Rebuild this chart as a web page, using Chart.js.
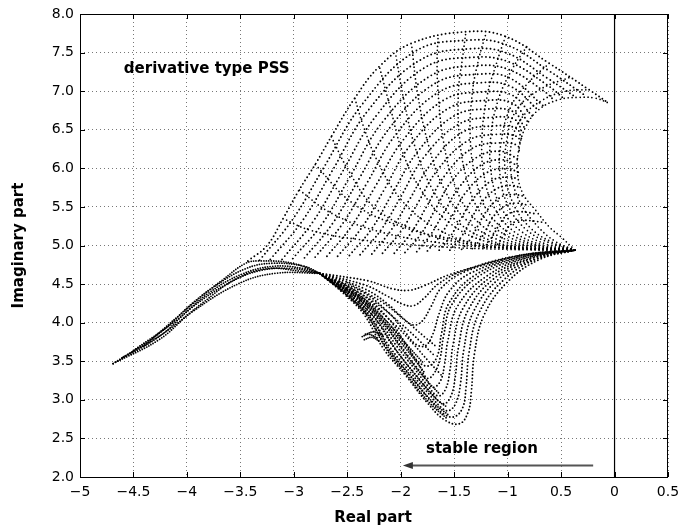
<!DOCTYPE html>
<html>
<head>
<meta charset="utf-8">
<script src="https://cdn.jsdelivr.net/npm/chart.js@4.4.1/dist/chart.umd.min.js"></script>
<style>
  html, body { margin: 0; padding: 0; background: #fff; }
  #chart { display: block; }
</style>
</head>
<body>
<canvas id="chart" width="678" height="531"></canvas>
<script>
const xTickLabels = ["\u22125", "\u22124.5", "\u22124", "\u22123.5", "\u22123", "\u22122.5", "\u22122", "\u22121.5", "\u22121", "0.5", "0", "0.5"];
const yTickLabels = ["2.0", "2.5", "3.0", "3.5", "4.0", "4.5", "5.0", "5.5", "6.0", "6.5", "7.0", "7.5", "8.0"];

// nested gain contours of the upper fan (outermost first)
const upperArcs = [
  [[-3.43,4.80],[-3.25,5.00],[-3.10,5.35],[-2.95,5.72],[-2.80,6.05],[-2.65,6.41],[-2.43,6.91],[-2.20,7.32],[-1.90,7.62],[-1.39,7.77],[-1.02,7.71],[-0.61,7.36],[-0.24,7.02],[-0.06,6.85]],
  [[-3.32,4.81],[-3.01,5.34],[-2.72,6.01],[-2.36,6.83],[-1.86,7.52],[-1.37,7.66],[-1.01,7.60],[-0.62,7.27],[-0.26,6.93]],
  [[-3.22,4.82],[-2.92,5.32],[-2.64,5.97],[-2.30,6.76],[-1.81,7.41],[-1.34,7.55],[-1.00,7.49],[-0.63,7.17],[-0.36,6.92]],
  [[-3.11,4.82],[-2.82,5.31],[-2.56,5.92],[-2.23,6.68],[-1.77,7.31],[-1.32,7.44],[-0.99,7.38],[-0.63,7.08],[-0.47,6.90]],
  [[-3.01,4.83],[-2.73,5.29],[-2.48,5.88],[-2.17,6.60],[-1.72,7.20],[-1.30,7.33],[-0.99,7.28],[-0.64,6.98],[-0.56,6.87]],
  [[-2.90,4.84],[-2.64,5.28],[-2.40,5.84],[-2.10,6.53],[-1.68,7.10],[-1.27,7.22],[-0.98,7.17],[-0.66,6.80]],
  [[-2.80,4.85],[-2.55,5.27],[-2.32,5.80],[-2.04,6.45],[-1.64,6.99],[-1.25,7.11],[-0.97,7.06],[-0.71,6.75]],
  [[-2.69,4.86],[-2.46,5.25],[-2.24,5.76],[-1.97,6.38],[-1.59,6.89],[-1.23,6.99],[-0.96,6.95],[-0.77,6.68]],
  [[-2.59,4.86],[-2.36,5.24],[-2.16,5.71],[-1.91,6.30],[-1.55,6.78],[-1.20,6.88],[-0.95,6.84],[-0.81,6.60]],
  [[-2.48,4.87],[-2.27,5.22],[-2.08,5.67],[-1.84,6.22],[-1.50,6.68],[-1.18,6.77],[-0.94,6.73],[-0.84,6.52]],
  [[-2.38,4.88],[-2.18,5.21],[-2.00,5.63],[-1.78,6.15],[-1.46,6.57],[-1.15,6.66],[-0.93,6.63],[-0.86,6.45]],
  [[-2.27,4.89],[-2.09,5.20],[-1.92,5.59],[-1.71,6.07],[-1.42,6.47],[-1.13,6.55],[-0.92,6.52],[-0.87,6.38]],
  [[-2.17,4.90],[-2.00,5.18],[-1.84,5.55],[-1.65,5.99],[-1.37,6.36],[-1.11,6.44],[-0.91,6.41],[-0.88,6.30]],
  [[-2.06,4.90],[-1.90,5.17],[-1.76,5.50],[-1.58,5.92],[-1.33,6.26],[-1.08,6.33],[-0.91,6.30],[-0.89,6.22]],
  [[-1.96,4.91],[-1.81,5.15],[-1.68,5.46],[-1.52,5.84],[-1.28,6.15],[-1.06,6.22],[-0.90,6.12]],
  [[-1.85,4.92],[-1.72,5.14],[-1.60,5.42],[-1.45,5.76],[-1.24,6.05],[-1.04,6.11],[-0.90,6.03]],
  [[-1.75,4.93],[-1.63,5.13],[-1.52,5.38],[-1.39,5.69],[-1.20,5.94],[-1.01,6.00],[-0.90,5.95]],
  [[-1.64,4.94],[-1.54,5.11],[-1.44,5.34],[-1.32,5.61],[-1.15,5.84],[-0.99,5.89],[-0.90,5.86]],
  [[-1.54,4.94],[-1.44,5.10],[-1.36,5.29],[-1.26,5.53],[-1.11,5.73],[-0.97,5.78],[-0.88,5.75]],
  [[-1.43,4.95],[-1.35,5.08],[-1.28,5.25],[-1.19,5.46],[-1.06,5.63],[-0.94,5.66],[-0.85,5.64]],
  [[-1.33,4.96],[-1.26,5.07],[-1.20,5.21],[-1.13,5.38],[-1.02,5.52],[-0.92,5.55],[-0.80,5.52]],
  [[-1.22,4.97],[-1.17,5.06],[-1.12,5.17],[-1.06,5.31],[-0.98,5.42],[-0.89,5.44],[-0.73,5.41]],
  [[-1.12,4.98],[-1.08,5.04],[-1.04,5.13],[-1.00,5.23],[-0.93,5.31],[-0.87,5.33],[-0.66,5.30]]
];

// branches leaving the open-loop point and running out to the upper envelope
const upperRays = [
  [[-0.37,4.94],[-0.50,5.11],[-0.61,5.24],[-0.74,5.46],[-0.86,5.68],[-0.91,5.98],[-0.89,6.28],[-0.83,6.54],[-0.71,6.76],[-0.52,6.89],[-0.33,6.92],[-0.18,6.91],[-0.06,6.85]],
  [[-0.37,4.94],[-0.55,5.05],[-0.72,5.25],[-0.88,5.55],[-0.97,5.95],[-0.96,6.35],[-0.87,6.65],[-0.68,6.88],[-0.45,7.00],[-0.24,7.02]],
  [[-0.37,4.94],[-0.58,5.04],[-0.78,5.22],[-0.94,5.52],[-1.02,5.92],[-1.01,6.35],[-0.92,6.75],[-0.70,7.02],[-0.40,7.19]],
  [[-0.37,4.94],[-0.60,5.03],[-0.82,5.20],[-0.99,5.50],[-1.07,5.90],[-1.06,6.35],[-0.97,6.80],[-0.80,7.12],[-0.61,7.36]],
  [[-0.37,4.94],[-0.62,5.01],[-0.87,5.18],[-1.06,5.49],[-1.15,5.90],[-1.16,6.38],[-1.09,6.88],[-0.96,7.28],[-0.82,7.58]],
  [[-0.37,4.94],[-0.65,5.00],[-0.92,5.16],[-1.12,5.48],[-1.22,5.90],[-1.24,6.40],[-1.19,6.95],[-1.10,7.38],[-1.02,7.71]],
  [[-0.37,4.94],[-0.67,4.99],[-0.96,5.14],[-1.19,5.45],[-1.30,5.88],[-1.35,6.40],[-1.33,6.98],[-1.27,7.42],[-1.20,7.76]],
  [[-0.37,4.94],[-0.70,4.99],[-1.00,5.12],[-1.25,5.42],[-1.38,5.85],[-1.45,6.40],[-1.46,7.00],[-1.42,7.45],[-1.39,7.77]],
  [[-0.37,4.94],[-0.72,4.98],[-1.05,5.10],[-1.33,5.38],[-1.50,5.80],[-1.60,6.35],[-1.65,6.98],[-1.66,7.40],[-1.65,7.72]],
  [[-0.37,4.94],[-0.75,4.98],[-1.10,5.08],[-1.40,5.35],[-1.60,5.75],[-1.74,6.30],[-1.84,6.95],[-1.90,7.62]],
  [[-0.37,4.94],[-0.78,4.97],[-1.15,5.06],[-1.48,5.32],[-1.70,5.72],[-1.86,6.25],[-1.97,6.88],[-2.05,7.50]],
  [[-0.37,4.94],[-0.80,4.97],[-1.20,5.05],[-1.55,5.30],[-1.80,5.70],[-1.98,6.20],[-2.10,6.80],[-2.20,7.32]],
  [[-0.37,4.94],[-0.85,4.96],[-1.30,5.02],[-1.70,5.25],[-2.00,5.60],[-2.22,6.10],[-2.35,6.55],[-2.43,6.91]],
  [[-0.37,4.94],[-0.90,4.96],[-1.45,5.04],[-1.90,5.22],[-2.25,5.50],[-2.48,5.95],[-2.65,6.41]],
  [[-0.37,4.94],[-0.90,4.97],[-1.50,5.08],[-2.00,5.25],[-2.45,5.55],[-2.80,6.05]],
  [[-0.37,4.94],[-0.95,4.96],[-1.60,5.03],[-2.20,5.18],[-2.65,5.42],[-2.95,5.72]],
  [[-0.37,4.94],[-1.00,4.95],[-1.70,4.99],[-2.40,5.08],[-2.85,5.20],[-3.10,5.35]]
];

// lower fan: loci from the crossing point down and back to the open-loop point
const lowerArcs = [
  [[-2.76,4.64],[-2.52,4.36],[-2.34,4.10],[-2.16,3.66],[-1.95,3.31],[-1.75,2.96],[-1.59,2.74],[-1.45,2.69],[-1.37,2.84],[-1.34,3.10],[-1.31,3.60],[-1.22,4.10],[-1.00,4.53],[-0.70,4.82],[-0.37,4.94]],
  [[-2.76,4.64],[-2.50,4.36],[-2.31,4.09],[-2.13,3.67],[-1.92,3.32],[-1.73,3.00],[-1.60,2.82],[-1.50,2.78],[-1.42,2.90],[-1.39,3.15],[-1.36,3.62],[-1.27,4.12],[-1.04,4.55],[-0.72,4.83],[-0.37,4.94]],
  [[-2.76,4.64],[-2.48,4.36],[-2.28,4.08],[-2.10,3.68],[-1.90,3.34],[-1.72,3.05],[-1.62,2.90],[-1.55,2.86],[-1.48,2.97],[-1.44,3.22],[-1.41,3.65],[-1.32,4.14],[-1.08,4.57],[-0.74,4.83],[-0.37,4.94]],
  [[-2.76,4.64],[-2.46,4.36],[-2.25,4.07],[-2.07,3.69],[-1.88,3.36],[-1.72,3.10],[-1.60,2.95],[-1.53,3.05],[-1.49,3.30],[-1.46,3.68],[-1.37,4.16],[-1.12,4.58],[-0.76,4.84],[-0.37,4.94]],
  [[-2.76,4.64],[-2.44,4.36],[-2.22,4.06],[-2.04,3.70],[-1.87,3.40],[-1.74,3.17],[-1.65,3.05],[-1.58,3.14],[-1.54,3.38],[-1.51,3.72],[-1.42,4.18],[-1.16,4.59],[-0.78,4.84],[-0.37,4.94]],
  [[-2.76,4.64],[-2.42,4.36],[-2.19,4.06],[-2.01,3.72],[-1.86,3.44],[-1.76,3.26],[-1.70,3.16],[-1.63,3.24],[-1.59,3.46],[-1.56,3.76],[-1.47,4.21],[-1.20,4.60],[-0.80,4.85],[-0.37,4.94]],
  [[-2.76,4.64],[-2.40,4.37],[-2.16,4.06],[-1.98,3.75],[-1.84,3.48],[-1.75,3.28],[-1.68,3.36],[-1.63,3.55],[-1.60,3.82],[-1.52,4.24],[-1.25,4.62],[-0.82,4.85],[-0.37,4.94]],
  [[-2.76,4.64],[-2.38,4.38],[-2.12,4.06],[-1.95,3.72],[-1.84,3.50],[-1.74,3.44],[-1.66,3.56],[-1.62,3.85],[-1.55,4.25],[-1.30,4.62],[-0.84,4.86],[-0.37,4.94]],
  [[-2.76,4.64],[-2.36,4.40],[-2.12,4.14],[-1.96,3.88],[-1.86,3.72],[-1.77,3.70],[-1.70,3.85],[-1.64,4.12],[-1.55,4.40],[-1.35,4.64],[-0.86,4.86],[-0.37,4.94]],
  [[-2.76,4.64],[-2.34,4.44],[-2.12,4.24],[-1.98,4.06],[-1.88,3.97],[-1.80,4.02],[-1.72,4.20],[-1.62,4.45],[-1.40,4.66],[-0.88,4.87],[-0.37,4.94]],
  [[-2.76,4.64],[-2.32,4.48],[-2.12,4.34],[-1.98,4.24],[-1.88,4.22],[-1.78,4.32],[-1.65,4.50],[-1.42,4.67],[-0.90,4.87],[-0.37,4.94]],
  [[-2.76,4.64],[-2.30,4.54],[-2.08,4.44],[-1.92,4.42],[-1.78,4.48],[-1.55,4.62],[-1.20,4.76],[-0.80,4.89],[-0.37,4.94]]
];

// dense strip along the left edge of the lower fan, and its fainter inner lines
const lowerBand = [
  [[-2.75,4.63],[-2.50,4.35],[-2.31,4.08],[-2.13,3.65],[-1.93,3.30],[-1.73,2.96],[-1.57,2.76]],
  [[-2.74,4.62],[-2.48,4.34],[-2.28,4.06],[-2.10,3.64],[-1.90,3.30],[-1.70,2.97],[-1.55,2.80]],
  [[-2.72,4.60],[-2.44,4.32],[-2.23,4.04],[-2.04,3.64],[-1.85,3.30],[-1.66,3.00],[-1.56,2.90]],
  [[-2.70,4.58],[-2.40,4.31],[-2.18,4.02],[-1.98,3.64],[-1.80,3.32],[-1.64,3.08]],
  [[-2.68,4.57],[-2.37,4.30],[-2.15,4.01],[-1.95,3.66],[-1.78,3.36]],
  [[-2.66,4.56],[-2.35,4.30],[-2.12,4.00],[-1.92,3.68],[-1.79,3.48]]
];
const lowerInner = [
  [[-2.62,4.55],[-2.30,4.27],[-2.06,3.98],[-1.88,3.72],[-1.74,3.50],[-1.62,3.32]],
  [[-2.57,4.53],[-2.24,4.26],[-2.00,3.99],[-1.82,3.76],[-1.69,3.58]],
  [[-2.50,4.52],[-2.18,4.27],[-1.95,4.02],[-1.78,3.82],[-1.66,3.68]]
];

// left branch running out to about -4.7 + j3.5
const leftBand = [
  [[-4.69,3.47],[-4.26,3.86],[-3.95,4.25],[-3.67,4.55],[-3.45,4.77],[-3.32,4.80],[-3.01,4.77],[-2.76,4.64]],
  [[-4.69,3.47],[-4.26,3.78],[-3.95,4.14],[-3.51,4.51],[-3.17,4.64],[-2.76,4.64]],
  [[-4.69,3.47],[-4.26,3.82],[-3.95,4.20],[-3.60,4.52],[-3.30,4.68],[-3.00,4.70],[-2.76,4.64]],
  [[-4.50,3.64],[-4.10,4.03],[-3.80,4.38],[-3.50,4.62],[-3.20,4.73],[-2.90,4.70],[-2.76,4.64]],
  [[-4.40,3.70],[-4.05,4.12],[-3.75,4.46],[-3.45,4.70],[-3.20,4.77],[-2.90,4.73],[-2.76,4.64]],
  [[-4.60,3.55],[-4.20,3.88],[-3.85,4.26],[-3.55,4.56],[-3.25,4.70],[-2.95,4.67],[-2.76,4.64]]
];

const hooks = [
  [[-2.36,3.82],[-2.30,3.85],[-2.22,3.80]],
  [[-2.34,3.78],[-2.27,3.81],[-2.19,3.75]],
  [[-2.33,3.85],[-2.25,3.88],[-2.17,3.84]]
];

const zeroLine = [[0, 2], [0, 8]];

function curveDataset(points, dash, width) {
  return {
    data: points.map(p => ({ x: p[0], y: p[1] })),
    showLine: true,
    borderColor: "#000",
    borderWidth: width,
    borderDash: dash,
    borderCapStyle: "round",
    pointRadius: 0,
    tension: 0.4,
    fill: false
  };
}

const datasets = [];
upperArcs.forEach(c => datasets.push(curveDataset(c, [0, 4], 1.9)));
upperRays.forEach(c => datasets.push(curveDataset(c, [0, 4], 1.7)));
lowerArcs.forEach(c => datasets.push(curveDataset(c, [0, 3.5], 1.9)));
lowerBand.forEach(c => datasets.push(curveDataset(c, [0, 2.5], 1.8)));
lowerInner.forEach(c => datasets.push(curveDataset(c, [0, 3.5], 1.8)));
leftBand.forEach(c => datasets.push(curveDataset(c, [0, 2.5], 1.8)));
hooks.forEach(c => datasets.push(curveDataset(c, [0, 2], 1.8)));
datasets.push({
  data: zeroLine.map(p => ({ x: p[0], y: p[1] })),
  showLine: true,
  borderColor: "#000",
  borderWidth: 1.2,
  pointRadius: 0,
  tension: 0
});

const boldFont = "bold 15px 'DejaVu Sans'";

const decorations = {
  id: "decorations",
  afterDraw(chart) {
    const ctx = chart.ctx;
    const xs = chart.scales.x;
    const ys = chart.scales.y;
    const a = chart.chartArea;
    ctx.save();

    // frame and inward ticks, MATLAB style
    ctx.strokeStyle = "#000";
    ctx.lineWidth = 1;
    ctx.strokeRect(a.left + 0.5, a.top + 0.5, a.right - a.left - 1, a.bottom - a.top);
    ctx.beginPath();
    xs.ticks.forEach(t => {
      const px = Math.round(xs.getPixelForValue(t.value)) + 0.5;
      ctx.moveTo(px, a.bottom); ctx.lineTo(px, a.bottom - 5);
      ctx.moveTo(px, a.top); ctx.lineTo(px, a.top + 5);
    });
    ys.ticks.forEach(t => {
      const py = Math.round(ys.getPixelForValue(t.value)) + 0.5;
      ctx.moveTo(a.left, py); ctx.lineTo(a.left + 5, py);
      ctx.moveTo(a.right, py); ctx.lineTo(a.right - 5, py);
    });
    ctx.stroke();

    ctx.fillStyle = "#000";
    ctx.font = boldFont;
    ctx.textBaseline = "middle";

    ctx.textAlign = "left";
    ctx.fillText("derivative type PSS", xs.getPixelForValue(-4.59), ys.getPixelForValue(7.28));

    ctx.textAlign = "center";
    ctx.fillText("stable region", xs.getPixelForValue(-1.24), ys.getPixelForValue(2.36));

    // arrow pointing into the stable half plane
    const ay = ys.getPixelForValue(2.15);
    const x1 = xs.getPixelForValue(-0.2);
    const x0 = xs.getPixelForValue(-1.98);
    ctx.strokeStyle = "#555";
    ctx.fillStyle = "#333";
    ctx.lineWidth = 2;
    ctx.beginPath();
    ctx.moveTo(x1, ay);
    ctx.lineTo(x0 + 8, ay);
    ctx.stroke();
    ctx.beginPath();
    ctx.moveTo(x0, ay);
    ctx.lineTo(x0 + 10, ay - 3.5);
    ctx.lineTo(x0 + 10, ay + 3.5);
    ctx.closePath();
    ctx.fill();

    // axis titles
    ctx.fillStyle = "#000";
    ctx.fillText("Real part", (a.left + a.right) / 2 - 1, 518);
    ctx.translate(19, (a.top + a.bottom) / 2);
    ctx.rotate(-Math.PI / 2);
    ctx.fillText("Imaginary part", 0, 0);

    ctx.restore();
  }
};

new Chart(document.getElementById("chart"), {
  type: "scatter",
  data: { datasets: datasets },
  options: {
    responsive: false,
    animation: false,
    events: [],
    devicePixelRatio: 1,
    layout: { padding: { top: 14, right: 10, bottom: 0, left: 0 } },
    plugins: { legend: { display: false }, tooltip: { enabled: false } },
    scales: {
      x: {
        type: "linear",
        min: -5,
        max: 0.5,
        ticks: {
          stepSize: 0.5,
          padding: 7,
          color: "#000",
          font: { family: "'DejaVu Sans'", size: 14 },
          maxRotation: 0,
          autoSkip: false,
          callback: (v, i) => xTickLabels[i]
        },
        grid: { color: "#777", lineWidth: 1, drawTicks: false },
        border: { display: false, dash: [1, 3] },
        afterFit: s => { s.height = 54; s.paddingLeft = 0; s.paddingRight = 0; }
      },
      y: {
        type: "linear",
        min: 2,
        max: 8,
        ticks: {
          stepSize: 0.5,
          padding: 6,
          color: "#000",
          font: { family: "'DejaVu Sans'", size: 14 },
          autoSkip: false,
          callback: (v, i) => yTickLabels[i]
        },
        grid: { color: "#777", lineWidth: 1, drawTicks: false },
        border: { display: false, dash: [1, 3] },
        afterFit: s => { s.width = 80; s.paddingTop = 0; s.paddingBottom = 0; }
      }
    }
  },
  plugins: [decorations]
});
</script>
</body>
</html>
